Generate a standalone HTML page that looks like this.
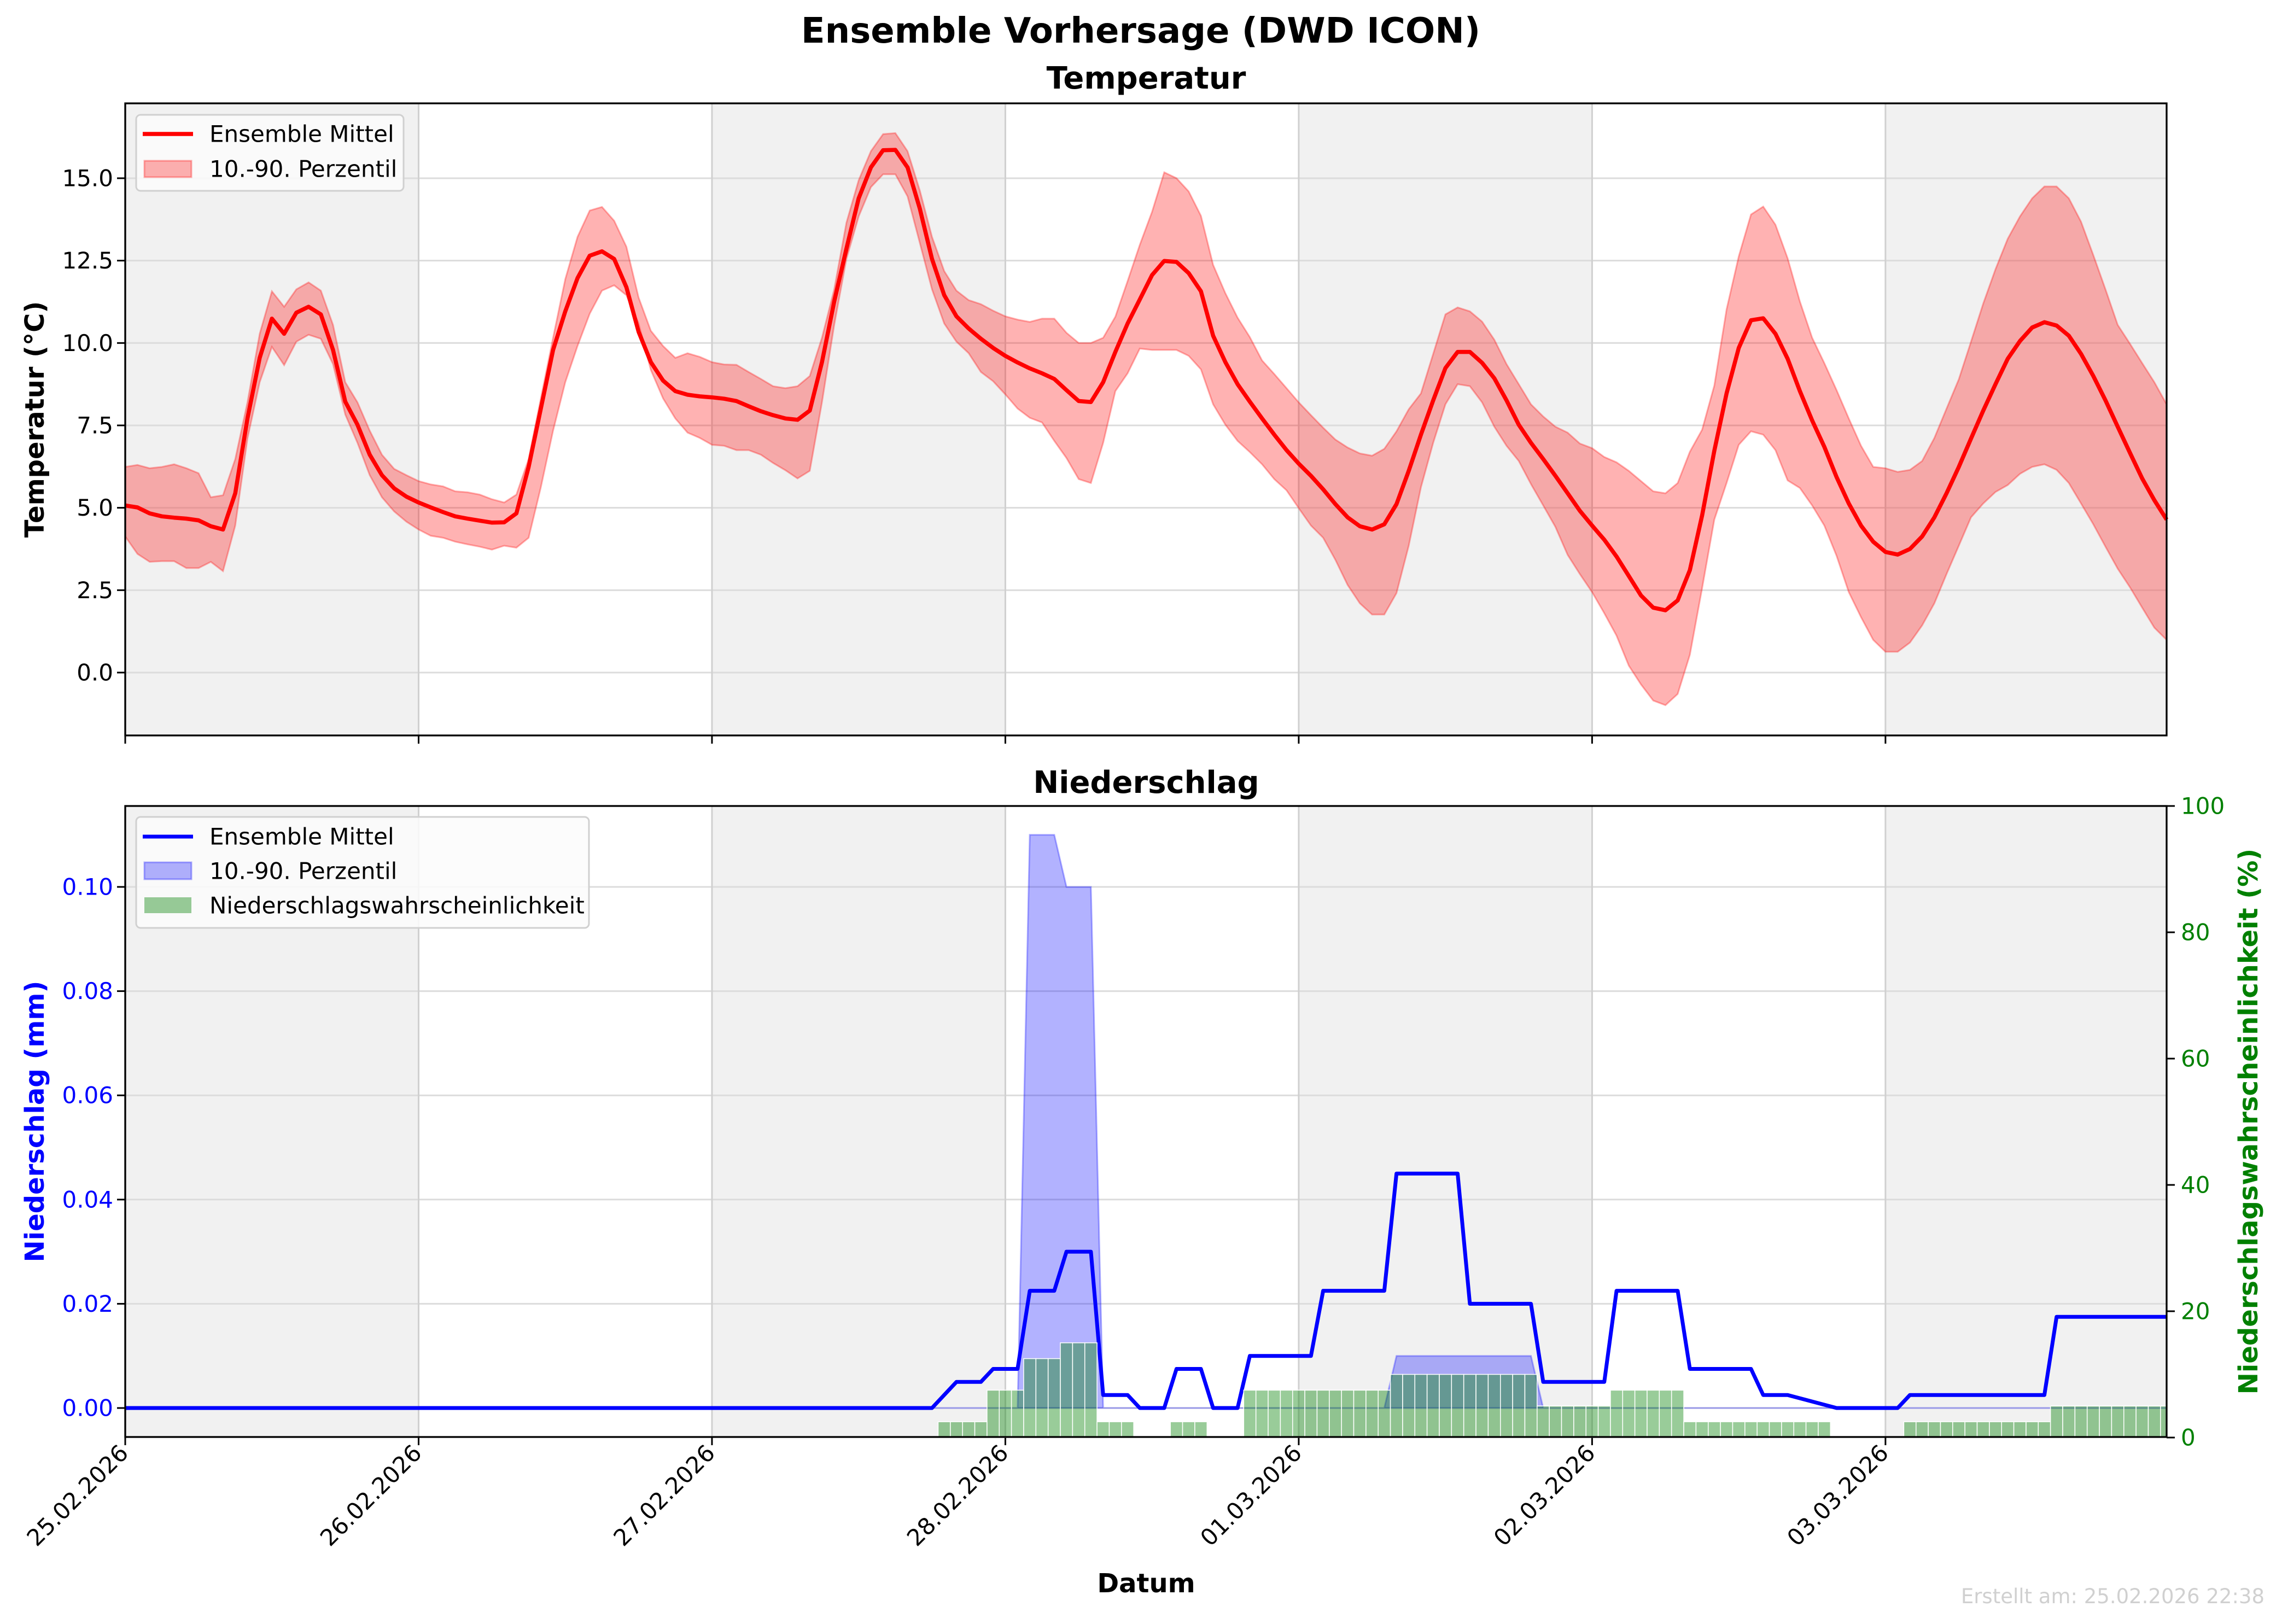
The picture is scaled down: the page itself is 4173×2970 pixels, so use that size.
<!DOCTYPE html>
<html><head><meta charset="utf-8"><style>
html,body{margin:0;padding:0;background:#fff;}
svg{display:block;font-family:"DejaVu Sans","Liberation Sans",sans-serif;}
</style></head><body>
<svg id="fig" xmlns="http://www.w3.org/2000/svg" width="4173" height="2970" viewBox="0 0 4173 2970">
<rect x="0" y="0" width="4173" height="2970" fill="#fff"/>
<text x="2086" y="78" text-anchor="middle" font-size="64" font-weight="bold">Ensemble Vorhersage (DWD ICON)</text>
<text x="2096" y="162" text-anchor="middle" font-size="56" font-weight="bold">Temperatur</text>
<text x="2096" y="1450" text-anchor="middle" font-size="56" font-weight="bold">Niederschlag</text>
<g id="top"></g>
<g id="bot"></g>
<text x="2096" y="2912" text-anchor="middle" font-size="48" font-weight="bold">Datum</text>
<text x="64" y="767" transform="rotate(-90 64 767)" text-anchor="middle" dominant-baseline="central" font-size="48" font-weight="bold">Temperatur (°C)</text>
<text x="64" y="2051" transform="rotate(-90 64 2051)" text-anchor="middle" dominant-baseline="central" font-size="48" font-weight="bold" fill="#0000ff">Niederschlag (mm)</text>
<text x="4112" y="2051" transform="rotate(-90 4112 2051)" text-anchor="middle" dominant-baseline="central" font-size="48" font-weight="bold" fill="#008000">Niederschlagswahrscheinlichkeit (%)</text>
<text x="4141" y="2932" text-anchor="end" font-size="37" fill="#d0d0d0">Erstellt am: 25.02.2026 22:38</text>
</svg>
<script>
const dayLabels = ["25.02.2026","26.02.2026","27.02.2026","28.02.2026","01.03.2026","02.03.2026","03.03.2026"];
const tempTicks = [0,2.5,5,7.5,10,12.5,15];
const precTicks = [0,0.02,0.04,0.06,0.08,0.10];
const probTicks = [0,20,40,60,80,100];
const tempMean = [5.07,5.01,4.83,4.74,4.70,4.67,4.62,4.44,4.34,5.44,7.71,9.55,10.74,10.28,10.92,11.10,10.87,9.79,8.22,7.52,6.61,5.99,5.59,5.34,5.16,5.01,4.87,4.74,4.67,4.61,4.55,4.56,4.83,6.24,8.01,9.79,10.96,11.97,12.65,12.78,12.55,11.69,10.34,9.42,8.86,8.54,8.43,8.38,8.35,8.31,8.24,8.08,7.93,7.81,7.71,7.67,7.95,
9.42,11.26,12.86,14.39,15.33,15.85,15.86,15.33,14.08,12.55,11.45,10.81,10.44,10.13,9.85,9.61,9.41,9.23,9.08,8.91,8.57,8.24,8.21,8.81,9.73,10.59,11.32,12.06,12.49,12.46,12.12,11.57,10.22,9.42,8.75,8.22,7.71,7.22,6.75,6.34,5.97,5.56,5.11,4.71,4.44,4.34,4.50,5.11,6.12,7.22,8.26,9.24,9.73,9.73,9.40,
8.93,8.26,7.52,6.97,6.48,5.97,5.44,4.91,4.46,4.03,3.52,2.93,2.34,1.97,1.89,2.19,3.11,4.77,6.73,8.47,9.85,10.69,10.75,10.28,9.52,8.54,7.65,6.85,5.93,5.13,4.46,3.97,3.66,3.58,3.75,4.13,4.71,5.44,6.24,7.10,7.95,8.75,9.52,10.06,10.47,10.63,10.53,10.22,9.67,9.00,8.26,7.46,6.67,5.89,5.23,4.64];
const tempP90 = [6.24,6.30,6.20,6.24,6.32,6.20,6.05,5.32,5.38,6.48,8.20,10.28,11.57,11.10,11.63,11.84,11.59,10.55,8.81,8.20,7.34,6.61,6.18,5.99,5.81,5.71,5.65,5.50,5.47,5.40,5.26,5.16,5.40,6.48,8.32,10.16,11.94,13.22,14.02,14.13,13.71,12.92,11.38,10.37,9.91,9.55,9.69,9.58,9.42,9.35,9.34,9.12,8.91,8.69,8.63,8.69,9.00,
10.16,11.63,13.65,14.94,15.82,16.34,16.37,15.82,14.63,13.22,12.18,11.59,11.30,11.18,10.98,10.81,10.71,10.64,10.74,10.74,10.31,10.00,10.00,10.16,10.80,11.88,12.98,13.98,15.18,15.00,14.60,13.86,12.37,11.51,10.77,10.18,9.47,9.06,8.63,8.20,7.81,7.43,7.07,6.83,6.65,6.58,6.79,7.32,7.99,8.47,9.67,10.87,11.08,10.96,10.65,
10.10,9.36,8.75,8.14,7.77,7.46,7.28,6.95,6.81,6.54,6.38,6.12,5.81,5.50,5.44,5.75,6.70,7.37,8.71,11.02,12.63,13.90,14.14,13.59,12.57,11.26,10.16,9.39,8.57,7.71,6.88,6.24,6.20,6.09,6.15,6.42,7.12,8.01,8.90,10.04,11.20,12.24,13.16,13.84,14.39,14.75,14.75,14.39,13.68,12.67,11.63,10.55,9.98,9.39,8.81,8.14];
const tempP10 = [4.13,3.60,3.36,3.38,3.38,3.17,3.17,3.36,3.08,4.46,7.10,8.81,9.88,9.33,10.04,10.25,10.13,9.36,7.83,6.97,5.99,5.32,4.89,4.58,4.34,4.15,4.09,3.97,3.89,3.82,3.73,3.85,3.79,4.09,5.62,7.34,8.81,9.91,10.89,11.59,11.75,11.45,10.59,9.18,8.32,7.71,7.28,7.12,6.91,6.88,6.75,6.75,6.61,6.36,6.14,5.89,6.12,
8.20,10.55,12.55,13.84,14.73,15.12,15.12,14.45,13.04,11.63,10.59,10.04,9.69,9.12,8.84,8.44,8.01,7.73,7.59,7.03,6.51,5.87,5.75,6.97,8.54,9.08,9.83,9.79,9.79,9.79,9.61,9.20,8.14,7.52,7.03,6.69,6.32,5.87,5.53,4.99,4.46,4.09,3.42,2.66,2.10,1.76,1.76,2.41,3.85,5.62,6.97,8.14,8.75,8.69,8.20,
7.46,6.88,6.42,5.72,5.07,4.42,3.57,2.99,2.44,1.80,1.12,0.21,-0.36,-0.85,-0.99,-0.65,0.54,2.56,4.64,5.75,6.91,7.32,7.22,6.75,5.83,5.60,5.07,4.46,3.54,2.44,1.68,0.99,0.63,0.63,0.91,1.43,2.10,2.99,3.85,4.71,5.13,5.48,5.69,6.03,6.24,6.32,6.15,5.75,5.13,4.50,3.82,3.15,2.59,1.97,1.36,0.99];
const precHours = [0,66,68,70,71,73,74,76,77,79,80,82,83,85,86,88,89,91,92,97,98,103,104,109,110,115,116,121,122,127,128,133,134,136,140,145,146,157,158,167];
const precMean = [0,0,0.005,0.005,0.0075,0.0075,0.0225,0.0225,0.03,0.03,0.0025,0.0025,0,0,0.0075,0.0075,0,0,0.01,0.01,0.0225,0.0225,0.045,0.045,0.02,0.02,0.005,0.005,0.0225,0.0225,0.0075,0.0075,0.0025,0.0025,0,0,0.0025,0.0025,0.0175,0.0175];
const bandHours = [0,73,74,76,77,79,80,103,104,115,116,167];
const precP90 = [0,0,0.11,0.11,0.10,0.10,0,0,0.01,0.01,0,0];
const precP10 = [0,0,0,0,0,0,0,0,0,0,0,0];
const probHours = [67,68,69,70,71,72,73,74,75,76,77,78,79,80,81,82,86,87,88,92,93,94,95,96,97,98,99,100,101,102,103,104,105,106,107,108,109,110,111,112,113,114,115,116,117,118,119,120,121,122,123,124,125,126,127,128,129,130,131,132,133,134,135,136,137,138,139,146,147,148,149,150,151,152,153,154,155,156,157,158,159,160,161,162,163,164,165,166,167];
const probVals = [2.5,2.5,2.5,2.5,7.5,7.5,7.5,12.5,12.5,12.5,15,15,15,2.5,2.5,2.5,2.5,2.5,2.5,7.5,7.5,7.5,7.5,7.5,7.5,7.5,7.5,7.5,7.5,7.5,7.5,10,10,10,10,10,10,10,10,10,10,10,10,5,5,5,5,5,5,7.5,7.5,7.5,7.5,7.5,7.5,2.5,2.5,2.5,2.5,2.5,2.5,2.5,2.5,2.5,2.5,2.5,2.5,2.5,2.5,2.5,2.5,2.5,2.5,2.5,2.5,2.5,2.5,2.5,2.5,5,5,5,5,5,5,5,5,5,5];

const NS='http://www.w3.org/2000/svg';
const L=229,R=3962,HMAX=167;
const x=h=>L+h*(R-L)/HMAX;
const T1=189,B1=1345, yT=v=>1230-v*60.27;
const T2=1474,B2=2628, yP=v=>2575-v*9530, yQ=v=>2629-v*11.55;
function mk(parent,tag,attrs){const e=document.createElementNS(NS,tag);for(const k in attrs)e.setAttribute(k,attrs[k]);parent.appendChild(e);return e;}
function pts(hs,vs,fy){return hs.map((h,i)=>x(h).toFixed(1)+','+fy(vs[i]).toFixed(1)).join(' ');}
const hrs=tempMean.map((_,i)=>i);

function frame(g,top,bot,yTicks,fy,fmt,col){
  for(let d=0;d<7;d+=2){
    const r=mk(g,'rect',{x:x(d*24),y:top,width:Math.min(x((d+1)*24),R)-x(d*24),height:bot-top,fill:'#f1f1f1'});
    
    
  }
  yTicks.forEach(v=>{
    const ln=mk(g,'line',{x1:L,x2:R,y1:fy(v),y2:fy(v),stroke:'#dcdcdc','stroke-width':3});
    
    
    const tk=mk(g,'line',{x1:L-15,x2:L,y1:fy(v),y2:fy(v),stroke:'#000','stroke-width':3});
    
    
    const t=mk(g,'text',{x:L-22,y:fy(v),'text-anchor':'end','dominant-baseline':'central','font-size':42,fill:col});
    t.textContent=fmt(v);
    
    
  });
  for(let d=0;d<7;d++){
    const ln=mk(g,'line',{x1:x(d*24),x2:x(d*24),y1:top,y2:bot,stroke:'#d0d0d0','stroke-width':3});
    
    
    const tk=mk(g,'line',{x1:x(d*24),x2:x(d*24),y1:bot,y2:bot+15,stroke:'#000','stroke-width':3});
    
    
  }
}
function spine(g,top,bot){
  const s=mk(g,'rect',{x:L,y:top,width:R-L,height:bot-top,fill:'none',stroke:'#000','stroke-width':3.3});
  
  
}

const gt=document.getElementById('top');
frame(gt,T1,B1,tempTicks,yT,v=>v.toFixed(1),'#000');
const band=mk(gt,'polygon',{points:pts(hrs,tempP90,yT)+' '+pts(hrs.slice().reverse(),tempP10.slice().reverse(),yT),fill:'#ff0000','fill-opacity':0.3,stroke:'#ff0000','stroke-opacity':0.3,'stroke-width':3});


const ml=mk(gt,'polyline',{points:pts(hrs,tempMean,yT),fill:'none',stroke:'#ff0000','stroke-width':7.5,'stroke-linejoin':'round'});


spine(gt,T1,B1);
const lg1=mk(gt,'g',{});


mk(lg1,'rect',{x:249,y:210,width:489,height:139,rx:8,fill:'#fcfcfc','fill-opacity':0.85,stroke:'#d0d0d0','stroke-width':3});
mk(lg1,'line',{x1:261,x2:353,y1:245,y2:245,stroke:'#f00','stroke-width':7.5});
const lt1=mk(lg1,'text',{x:383,y:245,'dominant-baseline':'central','font-size':42});lt1.textContent='Ensemble Mittel';


mk(lg1,'rect',{x:264,y:294,width:86,height:30,fill:'#ff0000','fill-opacity':0.3,stroke:'#ff0000','stroke-opacity':0.3,'stroke-width':3});
const lt2=mk(lg1,'text',{x:383,y:309,'dominant-baseline':'central','font-size':42});lt2.textContent='10.-90. Perzentil';



const gb=document.getElementById('bot');
frame(gb,T2,B2,precTicks,yP,v=>v.toFixed(2),'#0000ff');
const pb=mk(gb,'polygon',{points:pts(bandHours,precP90,yP)+' '+pts(bandHours.slice().reverse(),precP10.slice().reverse(),yP),fill:'#0000ff','fill-opacity':0.3,stroke:'#0000ff','stroke-opacity':0.3,'stroke-width':3});


const pl=mk(gb,'polyline',{points:pts(precHours,precMean,yP),fill:'none',stroke:'#0000ff','stroke-width':7,'stroke-linejoin':'round'});


const bw=(R-L)/HMAX;
probHours.forEach((h,i)=>{
  const x0=Math.max(L,x(h)-bw/2), x1=Math.min(R,x(h)+bw/2);
  const b=mk(gb,'rect',{x:x0,y:yQ(probVals[i]),width:x1-x0,height:yQ(0)-yQ(probVals[i]),fill:'#008000','fill-opacity':0.4,stroke:'#fff','stroke-width':1.5});
  
  
});
probTicks.forEach(v=>{
  const tk=mk(gb,'line',{x1:R,x2:R+15,y1:yQ(v),y2:yQ(v),stroke:'#000','stroke-width':3});
  
  
  const t=mk(gb,'text',{x:R+26,y:yQ(v),'dominant-baseline':'central','font-size':42,fill:'#008000'});
  t.textContent=String(v);
  
  
});
spine(gb,T2,B2);
dayLabels.forEach((s,d)=>{
  const tx=x(d*24)+8, ty=2660;
  const t=mk(gb,'text',{x:tx,y:ty,'text-anchor':'end','font-size':42,transform:`rotate(-45 ${tx} ${ty})`});
  t.textContent=s;
  
  
});
const lg2=mk(gb,'g',{});


mk(lg2,'rect',{x:249,y:1494,width:828,height:203,rx:8,fill:'#fcfcfc','fill-opacity':0.85,stroke:'#d0d0d0','stroke-width':3});
mk(lg2,'line',{x1:261,x2:353,y1:1530,y2:1530,stroke:'#00f','stroke-width':7});
const b1=mk(lg2,'text',{x:383,y:1530,'dominant-baseline':'central','font-size':42});b1.textContent='Ensemble Mittel';


mk(lg2,'rect',{x:264,y:1577,width:86,height:31,fill:'#0000ff','fill-opacity':0.3,stroke:'#0000ff','stroke-opacity':0.3,'stroke-width':3});
const b2=mk(lg2,'text',{x:383,y:1593,'dominant-baseline':'central','font-size':42});b2.textContent='10.-90. Perzentil';


mk(lg2,'rect',{x:264,y:1641,width:86,height:29,fill:'#008000','fill-opacity':0.4});
const b3=mk(lg2,'text',{x:383,y:1656,'dominant-baseline':'central','font-size':42});b3.textContent='Niederschlagswahrscheinlichkeit';


</script>
</body></html>
